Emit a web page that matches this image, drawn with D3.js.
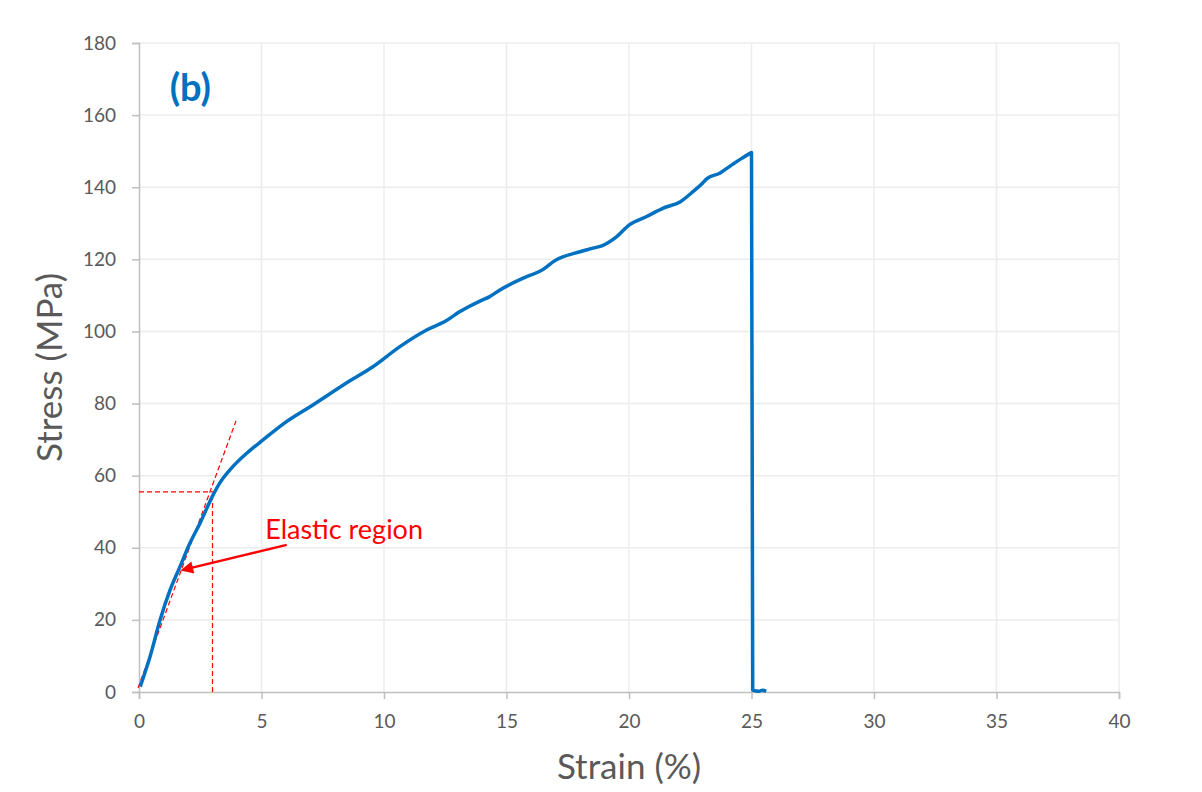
<!DOCTYPE html>
<html>
<head>
<meta charset="utf-8">
<script src="https://cdn.jsdelivr.net/npm/d3@7"></script>
<style>
  body { margin: 0; background: #fff; }
  .axis text { font-family: Lato, "Open Sans", sans-serif; font-size: 19px; fill: #595959; }
  .axis path, .axis line { stroke: #bfbfbf; stroke-width: 1.5; }
</style>
</head>
<body>
<div id="chart"></div>
<script>
// stress-strain curve
const strain = [0.05, 0.45, 0.86, 1.27, 1.67, 2.08, 2.49, 3.02, 3.3, 3.71, 4.41, 5.06, 5.88, 7.1, 8.61, 9.5,
    10.65, 11.74, 12.5, 13.1, 14.0, 14.3, 14.73, 15.82, 16.5, 16.64, 16.9, 18.0, 18.53, 18.94, 19.5, 20.0,
    20.7, 21.4, 22.1, 22.6, 23.0, 23.17, 23.7, 24.24, 24.6, 24.94, 25.0, 25.05, 25.3, 25.45, 25.6]
const stress = [1.5, 9.8, 20, 28.3, 34.7, 41.3, 46.8, 54.6, 58.0, 61.6, 66.3, 69.9, 74.3, 79.6, 86.3, 90.0,
    95.8, 100.4, 102.8, 105.5, 108.7, 109.6, 111.5, 115.2, 117.2, 117.9, 119.3, 122.1, 123.1, 123.9, 126.3, 129.5,
    131.8, 134.2, 136.0, 138.7, 141.1, 142.3, 143.9, 146.4, 148.0, 149.4, 149.6, 0.5, 0.2, 0.5, 0.2]

const xTicks = [0, 5, 10, 15, 20, 25, 30, 35, 40]
const yTicks = [0, 20, 40, 60, 80, 100, 120, 140, 160, 180]

// annotation lines (strain, stress)
const tangent = [[-0.04, 1.1], [3.96, 75.2]]
const yieldH = [[0, 55.5], [3.25, 55.5]]
const yieldV = [[3.0, 0], [3.0, 55.5]]
const arrowLine = [[6.03, 40.8], [1.75, 33.8]]
const label = "Elastic region"
const panel = "(b)"

var margin = { top: 43, right: 83, bottom: 100, left: 139 }
    , width = 1202 - margin.left - margin.right
    , height = 792 - margin.top - margin.bottom

const root = d3.select("div#chart").append("svg")
    .attr("width", 1202)
    .attr("height", 792)

root.append("defs").append("marker")
    .attr("id", "arrow")
    .attr("viewBox", "0 0 10 10")
    .attr("refX", 9).attr("refY", 5)
    .attr("markerWidth", 5.5).attr("markerHeight", 5)
    .attr("markerUnits", "strokeWidth")
    .attr("orient", "auto")
    .append("path")
    .attr("d", "M0,0L10,5L0,10z")
    .attr("fill", "#ff0000")

const svg = root.append("g")
    .attr("transform", "translate(" + margin.left + "," + margin.top + ")")

const xScale = d3.scaleLinear().domain([0, 40]).range([0, width])
const yScale = d3.scaleLinear().domain([0, 180]).range([height, 0])

// grid
svg.append("g").selectAll("line")
    .data(yTicks.slice(1))
    .enter().append("line")
    .attr("x1", 0).attr("x2", width)
    .attr("y1", d => yScale(d)).attr("y2", d => yScale(d))
    .attr("stroke", "#ececec").attr("stroke-width", 1.5)

svg.append("g").selectAll("line")
    .data(xTicks.slice(1))
    .enter().append("line")
    .attr("x1", d => xScale(d)).attr("x2", d => xScale(d))
    .attr("y1", 0).attr("y2", height)
    .attr("stroke", "#ececec").attr("stroke-width", 1.5)

svg.append("g")
    .attr("class", "axis")
    .attr("transform", "translate(0," + height + ")")
    .call(d3.axisBottom(xScale).tickValues(xTicks).tickSizeOuter(0).tickSize(7).tickPadding(16))

svg.append("g")
    .attr("class", "axis")
    .call(d3.axisLeft(yScale).tickValues(yTicks).tickSizeOuter(0).tickSize(7).tickPadding(16))

const line = d3.line()
    .x(d => xScale(d[0]))
    .y(d => yScale(d[1]))

// dashed guides
;[tangent, yieldH, yieldV].forEach(seg => {
    svg.append("path")
        .datum(seg)
        .attr("fill", "none")
        .attr("stroke", "#ff0000")
        .attr("stroke-width", 1.2)
        .attr("stroke-dasharray", "5,3")
        .attr("d", line)
})

svg.append("path")
    .datum(strain.map((s, i) => [s, stress[i]]))
    .attr("fill", "none")
    .attr("stroke", "#0070c0")
    .attr("stroke-width", 3.5)
    .attr("stroke-linejoin", "round")
    .attr("d", line.curve(d3.curveMonotoneX))

line.curve(d3.curveLinear)

svg.append("path")
    .datum(arrowLine)
    .attr("fill", "none")
    .attr("stroke", "#ff0000")
    .attr("stroke-width", 2.5)
    .attr("marker-end", "url(#arrow)")
    .attr("d", line)

svg.append("text")
    .attr("x", xScale(5.15))
    .attr("y", yScale(42.5))
    .text(label)
    .style("font", "27px Lato, sans-serif")
    .attr("fill", "#ff0000")

svg.append("text")
    .attr("x", xScale(1.25))
    .attr("y", yScale(164))
    .text(panel)
    .style("font", "bold 38px Lato, sans-serif")
    .attr("fill", "#0070c0")

// axis titles
svg.append("text")
    .attr("text-anchor", "middle")
    .attr("transform", "translate(" + (width / 2) + "," + (height + 87) + ")")
    .text("Strain (%)")
    .style("font", "35px Lato, sans-serif")
    .attr("fill", "#595959")

svg.append("text")
    .attr("text-anchor", "middle")
    .attr("transform", "translate(" + (0 - 77) + "," + (yScale(90)) + ")rotate(-90)")
    .text("Stress (MPa)")
    .style("font", "35px Lato, sans-serif")
    .attr("fill", "#595959")
</script>
</body>
</html>
